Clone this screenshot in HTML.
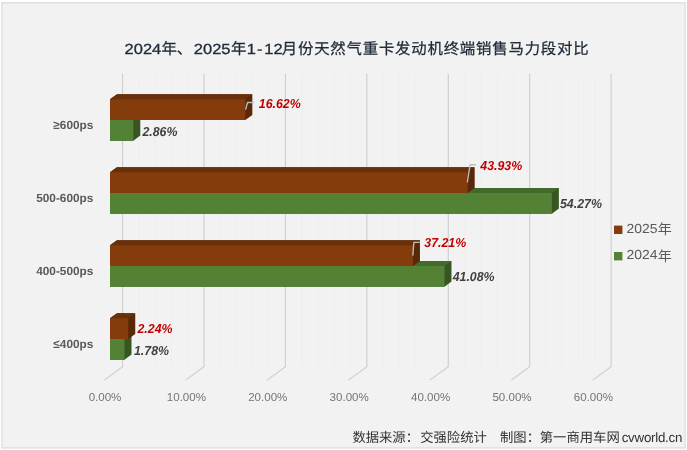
<!DOCTYPE html>
<html lang="zh-CN">
<head>
<meta charset="utf-8">
<title>2024年、2025年1-12月份天然气重卡发动机终端销售马力段对比</title>
<style>
html,body{margin:0;padding:0;background:#ffffff;}
body{width:687px;height:450px;overflow:hidden;font-family:"Liberation Sans",sans-serif;}
svg{display:block;will-change:transform;}
svg text{font-family:"Liberation Sans","Noto Sans CJK SC",sans-serif;text-rendering:geometricPrecision;}
</style>
</head>
<body>
<svg width="687" height="450" viewBox="0 0 687 450">
<rect width="687" height="450" fill="#ffffff"/>
<rect x="1.2" y="2" width="684.7" height="446.7" fill="#e2e2e2"/>
<rect x="2.7" y="3.6" width="681.7" height="443.4" fill="#f2f2f2"/>
<path d="M138.88 73.7V366.7M155.17 73.7V366.7M171.45 73.7V366.7M187.74 73.7V366.7M220.3 73.7V366.7M236.59 73.7V366.7M252.87 73.7V366.7M269.16 73.7V366.7M301.72 73.7V366.7M318.01 73.7V366.7M334.29 73.7V366.7M350.58 73.7V366.7M383.14 73.7V366.7M399.43 73.7V366.7M415.71 73.7V366.7M432 73.7V366.7M464.56 73.7V366.7M480.85 73.7V366.7M497.13 73.7V366.7M513.42 73.7V366.7M545.98 73.7V366.7M562.27 73.7V366.7M578.55 73.7V366.7M594.84 73.7V366.7" fill="none" stroke="#eeeeee" stroke-width="1"/>
<path d="M138.88 366.7l-18.4 13.4M155.17 366.7l-18.4 13.4M171.45 366.7l-18.4 13.4M187.74 366.7l-18.4 13.4M220.3 366.7l-18.4 13.4M236.59 366.7l-18.4 13.4M252.87 366.7l-18.4 13.4M269.16 366.7l-18.4 13.4M301.72 366.7l-18.4 13.4M318.01 366.7l-18.4 13.4M334.29 366.7l-18.4 13.4M350.58 366.7l-18.4 13.4M383.14 366.7l-18.4 13.4M399.43 366.7l-18.4 13.4M415.71 366.7l-18.4 13.4M432 366.7l-18.4 13.4M464.56 366.7l-18.4 13.4M480.85 366.7l-18.4 13.4M497.13 366.7l-18.4 13.4M513.42 366.7l-18.4 13.4M545.98 366.7l-18.4 13.4M562.27 366.7l-18.4 13.4M578.55 366.7l-18.4 13.4M594.84 366.7l-18.4 13.4" fill="none" stroke="#f0f0f0" stroke-width="1"/>
<path d="M122.6 73.7V366.7l-18.4 13.4M204.02 73.7V366.7l-18.4 13.4M285.44 73.7V366.7l-18.4 13.4M366.86 73.7V366.7l-18.4 13.4M448.28 73.7V366.7l-18.4 13.4M529.7 73.7V366.7l-18.4 13.4M611.12 73.7V366.7l-18.4 13.4" fill="none" stroke="#cdcdcd" stroke-width="1.1"/>
<polygon fill="#375623" points="110,120 117,114.9 140.29,114.9 140.29,135.6 133.29,140.7 110,140.7"/><polygon fill="#436A2B" points="110,121 110,120 117,114.9 140.29,114.9 133.29,120 133.29,121"/><rect fill="#548235" x="110" y="120" width="23.29" height="20.7"/>
<polygon fill="#582808" points="110,99.3 117,94.2 252.32,94.2 252.32,114.9 245.32,120 110,120"/><polygon fill="#69300A" points="110,100.3 110,99.3 117,94.2 252.32,94.2 245.32,99.3 245.32,100.3"/><rect fill="#843C0C" x="110" y="99.3" width="135.32" height="20.7"/>
<polygon fill="#375623" points="110,193 117,187.9 558.87,187.9 558.87,208.6 551.87,213.7 110,213.7"/><polygon fill="#436A2B" points="110,194 110,193 117,187.9 558.87,187.9 551.87,193 551.87,194"/><rect fill="#548235" x="110" y="193" width="441.87" height="20.7"/>
<polygon fill="#582808" points="110,172.3 117,167.2 474.68,167.2 474.68,187.9 467.68,193 110,193"/><polygon fill="#69300A" points="110,173.3 110,172.3 117,167.2 474.68,167.2 467.68,172.3 467.68,173.3"/><rect fill="#843C0C" x="110" y="172.3" width="357.68" height="20.7"/>
<polygon fill="#375623" points="110,266 117,260.9 451.47,260.9 451.47,281.6 444.47,286.7 110,286.7"/><polygon fill="#436A2B" points="110,267 110,266 117,260.9 451.47,260.9 444.47,266 444.47,267"/><rect fill="#548235" x="110" y="266" width="334.47" height="20.7"/>
<polygon fill="#582808" points="110,245.3 117,240.2 419.96,240.2 419.96,260.9 412.96,266 110,266"/><polygon fill="#69300A" points="110,246.3 110,245.3 117,240.2 419.96,240.2 412.96,245.3 412.96,246.3"/><rect fill="#843C0C" x="110" y="245.3" width="302.96" height="20.7"/>
<polygon fill="#375623" points="110,339 117,333.9 131.49,333.9 131.49,354.6 124.49,359.7 110,359.7"/><polygon fill="#436A2B" points="110,340 110,339 117,333.9 131.49,333.9 124.49,339 124.49,340"/><rect fill="#548235" x="110" y="339" width="14.49" height="20.7"/>
<polygon fill="#582808" points="110,318.3 117,313.2 135.24,313.2 135.24,333.9 128.24,339 110,339"/><polygon fill="#69300A" points="110,319.3 110,318.3 117,313.2 135.24,313.2 128.24,318.3 128.24,319.3"/><rect fill="#843C0C" x="110" y="318.3" width="18.24" height="20.7"/>
<g fill="none" stroke="#bebebe" stroke-width="1.35" stroke-linejoin="round">
<path d="M245.6 109.7L247.5 102.5H254"/>
<path d="M467.3 182.5L470.1 164.7H476.1"/>
<path d="M412.8 255.6L413.9 242.3H419.8"/>
</g>
<g font-family="Liberation Sans, sans-serif" font-size="11.8" font-weight="bold" fill="#595959" text-anchor="end">
<text x="93.3" y="129">≥600ps</text>
<text x="93.3" y="202">500-600ps</text>
<text x="93.3" y="275">400-500ps</text>
<text x="93.3" y="348">≤400ps</text>
</g>
<g font-family="Liberation Sans, sans-serif" font-size="11.55" fill="#757575" text-anchor="middle">
<text x="105" y="400.5">0.00%</text>
<text x="186.4" y="400.5">10.00%</text>
<text x="267.8" y="400.5">20.00%</text>
<text x="349.2" y="400.5">30.00%</text>
<text x="430.6" y="400.5">40.00%</text>
<text x="512" y="400.5">50.00%</text>
<text x="593.4" y="400.5">60.00%</text>
</g>
<g font-family="Liberation Sans, sans-serif" font-size="13" font-weight="bold" font-style="italic">
<text transform="translate(258.8 107.7) scale(0.95 1)" fill="#C00000">16.62%</text>
<text transform="translate(142.4 136) scale(0.95 1)" fill="#404040">2.86%</text>
<text transform="translate(480.3 170) scale(0.95 1)" fill="#C00000">43.93%</text>
<text transform="translate(560 208.3) scale(0.95 1)" fill="#404040">54.27%</text>
<text transform="translate(424.3 247.3) scale(0.95 1)" fill="#C00000">37.21%</text>
<text transform="translate(452.7 281.3) scale(0.95 1)" fill="#404040">41.08%</text>
<text transform="translate(137.5 333.3) scale(0.95 1)" fill="#C00000">2.24%</text>
<text transform="translate(134 355) scale(0.95 1)" fill="#404040">1.78%</text>
</g>
<rect x="614" y="225.6" width="8.4" height="8.4" fill="#843C0C"/>
<rect x="614" y="252" width="8.4" height="8.4" fill="#548235"/>
<g font-family="Liberation Sans, sans-serif" font-size="13.2" fill="#595959">
<text transform="translate(626.5 233) scale(1.06 1)">2025</text>
<text transform="translate(626.5 259.3) scale(1.06 1)">2024</text>
</g>
<text x="657.7" y="234.2" font-family="'Liberation Sans','Noto Sans CJK SC',sans-serif" font-size="14" fill="#595959">年</text>
<text x="657.7" y="260.5" font-family="'Liberation Sans','Noto Sans CJK SC',sans-serif" font-size="14" fill="#595959">年</text>
<g font-family="Liberation Sans, sans-serif" font-size="14.6" fill="#222B3A" stroke="#222B3A" stroke-width="0.3">
<text transform="translate(124.6 54.4) scale(1.13 1)">2024</text>
<text transform="translate(193.8 54.4) scale(1.13 1)">2025</text>
<text transform="translate(246.8 54.4) scale(1.13 1)">1</text>
<text transform="translate(256.9 54.4) scale(1.13 1)">-</text>
<text transform="translate(264.3 54.4) scale(1.13 1)">12</text>
</g>
<g font-family="'Liberation Sans','Noto Sans CJK SC',sans-serif" font-size="15.4" fill="#222B3A" stroke="#222B3A" stroke-width="0.25">
<text x="161.4" y="54.2" textLength="30.8" lengthAdjust="spacing">年、</text>
<text x="231" y="54.2">年</text>
<text x="281.8" y="54.2" textLength="306.8" lengthAdjust="spacing">月份天然气重卡发动机终端销售马力段对比</text>
</g>
<g font-family="'Liberation Sans','Noto Sans CJK SC',sans-serif" font-size="13.33" fill="#333333">
<text x="352.4" y="442">数据来源：</text>
<text x="420.2" y="442">交强险统计</text>
<text x="500" y="442">制图：</text>
<text x="539.8" y="442">第一商用车网</text>
</g>
<text font-family="Liberation Sans, sans-serif" font-size="13.33" letter-spacing="-0.25" fill="#333333" x="621.7" y="441.8">cvworld.cn</text>
</svg>
</body>
</html>
